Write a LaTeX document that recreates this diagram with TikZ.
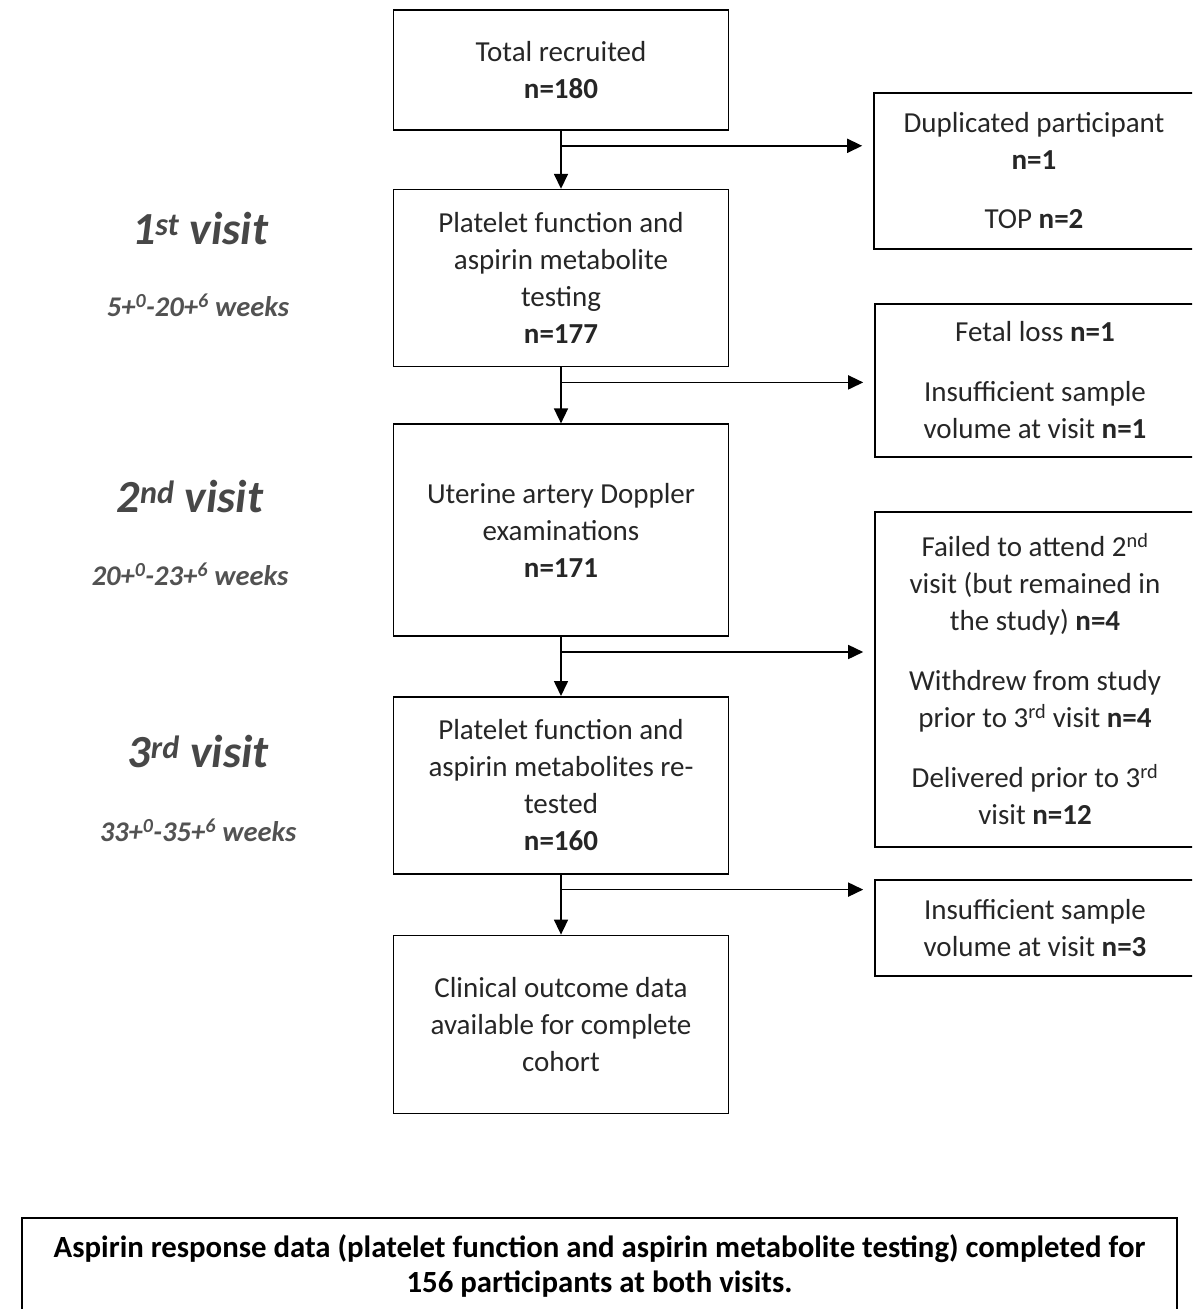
\documentclass[tikz,border=0pt]{standalone}
\usepackage{fontspec}
\setmainfont{Carlito}
\usetikzlibrary{arrows.meta,positioning,calc}

\begin{document}
\begin{tikzpicture}[
    x=1pt, y=1pt,
    node distance=58pt,
    box/.style = {draw, line width=1.6pt, align=center, minimum width=335pt, inner sep=0pt, font=\fontsize{29}{37}\selectfont, text=black!85},
    side/.style = {box, minimum width=320pt},
    visit/.style = {font=\fontsize{46}{52}\selectfont\bfseries\itshape, text=black!72},
    weeks/.style = {font=\fontsize{28.5}{32}\selectfont\bfseries\itshape, text=black!68},
    link/.style = {->, line width=1.6pt},
    >={Triangle[length=15pt, width=14pt]}
  ]
  \useasboundingbox (0,0) rectangle (1192,-1309);
  \clip (0,0) rectangle (1192,-1309);
  % main column
  \node[box, minimum height=120pt] (total) at (561,-70) {Total recruited\\\textbf{n=180}};
  \node[box, minimum height=177pt, below=of total] (plat1) {Platelet function and\\aspirin metabolite\\testing\\\textbf{n=177}};
  \node[box, minimum height=212pt, below=56pt of plat1] (doppler) {Uterine artery Doppler\\examinations\\\textbf{n=171}};
  \node[box, minimum height=177pt, below=59pt of doppler] (plat2) {Platelet function and\\aspirin metabolites re-\\tested\\\textbf{n=160}};
  \node[box, minimum height=178pt, below=60pt of plat2] (outcome) {Clinical outcome data\\available for complete\\cohort};
  % exclusions (cut off at the right edge)
  \node[side, minimum height=156pt] (dup) at (1034,-171) {Duplicated participant\\\textbf{n=1}\\[22pt]TOP \textbf{n=2}};
  \node[side, minimum height=153pt] (fetal) at (1035,-380.5) {Fetal loss \textbf{n=1}\\[23pt]Insufficient sample\\volume at visit \textbf{n=1}};
  \node[side, minimum height=335pt] (lost) at (1035,-679.5) {Failed to attend 2\textsuperscript{nd}\\visit (but remained in\\the study) \textbf{n=4}\\[23pt]Withdrew from study\\prior to 3\textsuperscript{rd} visit \textbf{n=4}\\[23pt]Delivered prior to 3\textsuperscript{rd}\\visit \textbf{n=12}};
  \node[side, minimum height=96pt] (insuf) at (1035,-928) {Insufficient sample\\volume at visit \textbf{n=3}};
  % visits
  \node[visit] (v1) at (200,-229) {1\textsuperscript{st} visit};
  \node[weeks] (w1) at (198,-305) {5+\textsuperscript{0}-20+\textsuperscript{6} weeks};
  \node[visit] (v2) at (190,-497) {2\textsuperscript{nd} visit};
  \node[weeks] (w2) at (190,-574) {20+\textsuperscript{0}-23+\textsuperscript{6} weeks};
  \node[visit] (v3) at (198,-752) {3\textsuperscript{rd} visit};
  \node[weeks] (w3) at (198,-830) {33+\textsuperscript{0}-35+\textsuperscript{6} weeks};
  % summary
  \node[box, font=\fontsize{30.8}{35}\selectfont\bfseries, text=black, minimum width=1155pt, minimum height=96pt, anchor=north] (summary) at (599.5,-1217) {Aspirin response data (platelet function and aspirin metabolite testing) completed for\\156 participants at both visits.};
  % arrows
  \coordinate (s1) at ($(total.south)+(0,-15)$);
  \coordinate (s2) at ($(plat1.south)+(0,-15)$);
  \coordinate (s3) at ($(doppler.south)+(0,-15)$);
  \coordinate (s4) at ($(plat2.south)+(0,-15)$);
  \draw[link] (total) -- (plat1);
  \draw[link] (plat1) -- (doppler);
  \draw[link] (doppler) -- (plat2);
  \draw[link] (plat2) -- (outcome);
  \draw[link, shorten >=11pt] (s1) -- (s1 -| dup.west);
  \draw[link, shorten >=11pt] (s2) -- (s2 -| fetal.west);
  \draw[link, shorten >=11pt] (s3) -- (s3 -| lost.west);
  \draw[link, shorten >=11pt] (s4) -- (s4 -| insuf.west);
\end{tikzpicture}
\end{document}
